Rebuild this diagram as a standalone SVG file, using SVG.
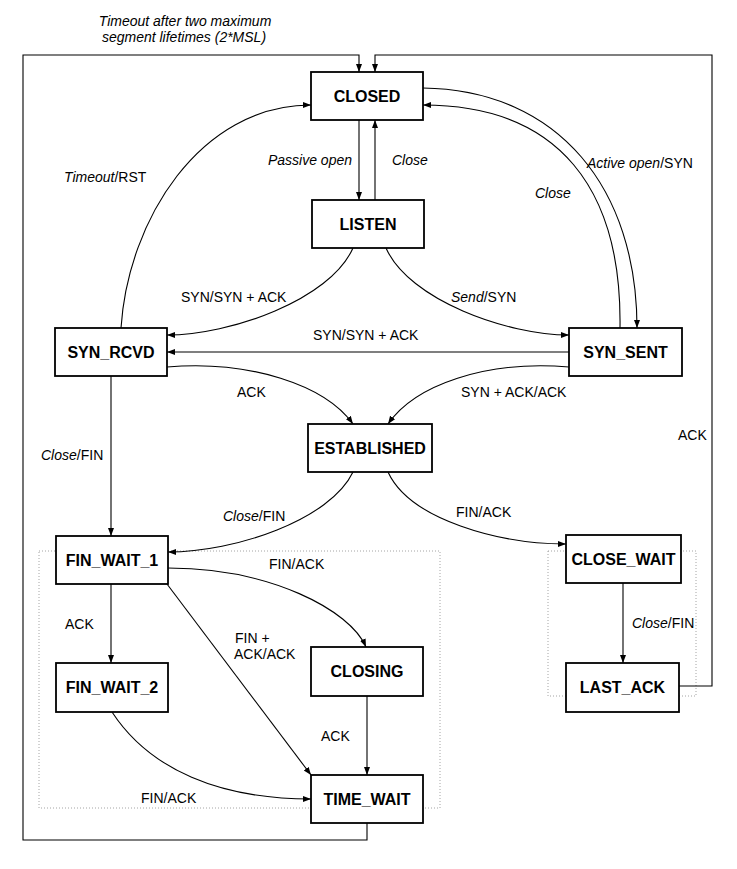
<svg xmlns="http://www.w3.org/2000/svg" width="737" height="869" viewBox="0 0 737 869">
<style>
  .box { fill: #fff; stroke: #000; stroke-width: 1.8; }
  .nt { font-family: "Liberation Sans", Arial, sans-serif; font-size: 16px; font-weight: bold; text-anchor: middle; fill: #000; }
  .lb { font-family: "Liberation Sans", Arial, sans-serif; font-size: 14px; fill: #000; }
  .it { font-style: italic; }
  .e { fill: none; stroke: #000; stroke-width: 1.1; marker-end: url(#arr); }
  .ln { fill: none; stroke: #000; stroke-width: 1.1; }
  .dot { fill: none; stroke: #9a9a9a; stroke-width: 0.9; stroke-dasharray: 1 2; }
</style>
<defs>
  <marker id="arr" markerUnits="userSpaceOnUse" markerWidth="9" markerHeight="7" refX="8" refY="3" orient="auto">
    <path d="M0,0 L8,3 L0,6 z" fill="#000"/>
  </marker>
</defs>
<rect width="737" height="869" fill="#fff"/>

<g id="groups">
  <rect class="dot" x="39" y="551" width="401" height="257"/>
  <rect class="dot" x="548" y="551" width="148" height="145"/>
</g>

<g id="connectors">
  <path class="e" d="M367,823 V840 H23 V55 H359 V72"/>
  <path class="e" d="M679,686 H712 V55 H375 V72"/>
  <path class="e" d="M359,120 V200"/>
  <path class="e" d="M375,200 V120"/>
  <path class="e" d="M121,328 C128,220 200,105 311,105"/>
  <path class="e" d="M423,88 C560,90 637,190 637,328"/>
  <path class="e" d="M620,328 C622,190 560,105 423,105"/>
  <path class="e" d="M353,248 C330,300 230,335 167,335"/>
  <path class="e" d="M386,248 C409,300 507,335 569,335"/>
  <path class="e" d="M569,352 H167"/>
  <path class="e" d="M167,367 C250,360 325,385 353,424"/>
  <path class="e" d="M569,367 C486,360 415,385 388,424"/>
  <path class="e" d="M111,376 V536"/>
  <path class="e" d="M353,472 C330,520 235,552 168,552"/>
  <path class="e" d="M388,472 C410,520 500,544 566,544"/>
  <path class="e" d="M111,584 V663"/>
  <path class="e" d="M168,568 C270,568 350,610 366,647"/>
  <path class="e" d="M167,584 L311,775"/>
  <path class="e" d="M367,696 V775"/>
  <path class="e" d="M112,712 C150,770 220,799 311,799"/>
  <path class="e" d="M623,583 V663"/>
</g>

<g id="labels">
  <text class="lb it" x="185" y="26" text-anchor="middle">Timeout after two maximum</text>
  <text class="lb it" x="184" y="42" text-anchor="middle">segment lifetimes (2*MSL)</text>
  <text class="lb" x="64" y="182"><tspan class="it">Timeout</tspan>/RST</text>
  <text class="lb it" x="352" y="165" text-anchor="end">Passive open</text>
  <text class="lb it" x="392" y="165">Close</text>
  <text class="lb" x="587" y="168"><tspan class="it">Active open</tspan>/SYN</text>
  <text class="lb it" x="535" y="198">Close</text>
  <text class="lb" x="181" y="302">SYN/SYN + ACK</text>
  <text class="lb" x="451" y="302"><tspan class="it">Send</tspan>/SYN</text>
  <text class="lb" x="313" y="340">SYN/SYN + ACK</text>
  <text class="lb" x="237" y="397">ACK</text>
  <text class="lb" x="461" y="397">SYN + ACK/ACK</text>
  <text class="lb" x="41" y="460"><tspan class="it">Close</tspan>/FIN</text>
  <text class="lb" x="678" y="440">ACK</text>
  <text class="lb" x="223" y="521"><tspan class="it">Close</tspan>/FIN</text>
  <text class="lb" x="456" y="517">FIN/ACK</text>
  <text class="lb" x="269" y="569">FIN/ACK</text>
  <text class="lb" x="65" y="629">ACK</text>
  <text class="lb" x="235" y="643">FIN +</text>
  <text class="lb" x="234" y="659">ACK/ACK</text>
  <text class="lb" x="321" y="741">ACK</text>
  <text class="lb" x="632" y="628"><tspan class="it">Close</tspan>/FIN</text>
  <text class="lb" x="141" y="803">FIN/ACK</text>
</g>

<g id="CLOSED"><rect class="box" x="311" y="72" width="112" height="48"/><text class="nt" x="367" y="102">CLOSED</text></g>
<g id="LISTEN"><rect class="box" x="312" y="200" width="112" height="48"/><text class="nt" x="368" y="230">LISTEN</text></g>
<g id="SYN_RCVD"><rect class="box" x="55" y="328" width="112" height="48"/><text class="nt" x="111" y="358">SYN_RCVD</text></g>
<g id="SYN_SENT"><rect class="box" x="569" y="328" width="113" height="48"/><text class="nt" x="625.5" y="358">SYN_SENT</text></g>
<g id="ESTABLISHED"><rect class="box" x="308" y="424" width="124" height="48"/><text class="nt" x="370" y="454">ESTABLISHED</text></g>
<g id="FIN_WAIT_1"><rect class="box" x="56" y="536" width="112" height="48"/><text class="nt" x="112" y="566">FIN_WAIT_1</text></g>
<g id="CLOSE_WAIT"><rect class="box" x="566" y="535" width="115" height="48"/><text class="nt" x="623.5" y="565">CLOSE_WAIT</text></g>
<g id="FIN_WAIT_2"><rect class="box" x="56" y="663" width="112" height="49"/><text class="nt" x="112" y="693">FIN_WAIT_2</text></g>
<g id="CLOSING"><rect class="box" x="311" y="647" width="112" height="49"/><text class="nt" x="367" y="677">CLOSING</text></g>
<g id="LAST_ACK"><rect class="box" x="566" y="663" width="113" height="49"/><text class="nt" x="622.5" y="693">LAST_ACK</text></g>
<g id="TIME_WAIT"><rect class="box" x="311" y="775" width="112" height="48"/><text class="nt" x="367" y="805">TIME_WAIT</text></g>
</svg>
